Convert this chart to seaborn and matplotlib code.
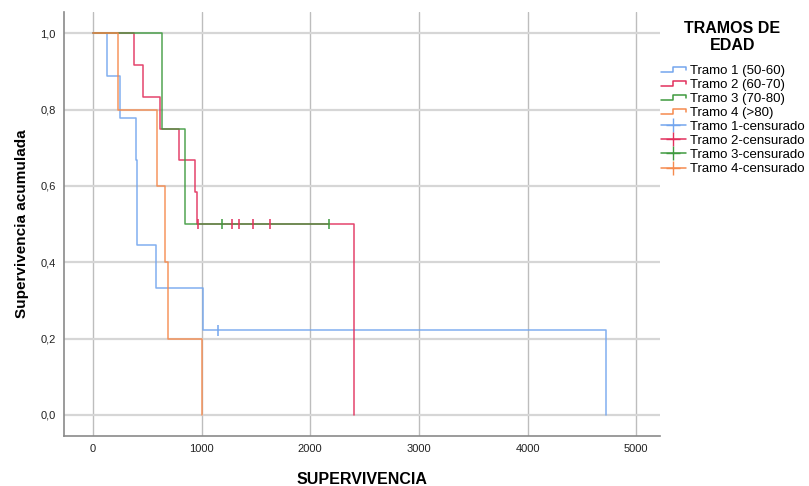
import seaborn as sns
import matplotlib.pyplot as plt
import matplotlib.ticker as ticker
from matplotlib.lines import Line2D
from matplotlib.legend_handler import HandlerBase
import pandas as pd

# Kaplan-Meier step curves (time, cumulative survival)
t1_time = [0, 126, 251, 399, 405, 410, 583, 1010, 4724]
t1_surv = [1.0, 0.889, 0.778, 0.667, 0.556, 0.444, 0.333, 0.222, 0.0]
t2_time = [0, 381, 464, 617, 789, 942, 955, 2403]
t2_surv = [1.0, 0.917, 0.833, 0.75, 0.667, 0.583, 0.5, 0.0]
t3_time = [0, 635, 847, 2173]
t3_surv = [1.0, 0.75, 0.5, 0.5]
t4_time = [0, 230, 586, 660, 688, 1004]
t4_surv = [1.0, 0.8, 0.6, 0.4, 0.2, 0.0]

# censored observations
c1_time = [1148]
c1_surv = [0.222]
c2_time = [964, 1283, 1344, 1476, 1630]
c2_surv = [0.5, 0.5, 0.5, 0.5, 0.5]
c3_time = [1188, 2173]
c3_surv = [0.5, 0.5]
c4_time = []
c4_surv = []

groups = ["Tramo 1 (50-60)", "Tramo 2 (60-70)", "Tramo 3 (70-80)", "Tramo 4 (>80)"]
cens_labels = ["Tramo 1-censurado", "Tramo 2-censurado", "Tramo 3-censurado", "Tramo 4-censurado"]
colors = ["#74A6EE", "#E2305C", "#3F9A3F", "#F58A4E"]

curves = pd.concat([
    pd.DataFrame({"time": t, "surv": s, "grupo": g})
    for t, s, g in zip([t1_time, t2_time, t3_time, t4_time],
                       [t1_surv, t2_surv, t3_surv, t4_surv], groups)
], ignore_index=True)
cens = pd.concat([
    pd.DataFrame({"time": t, "surv": s, "grupo": g})
    for t, s, g in zip([c1_time, c2_time, c3_time, c4_time],
                       [c1_surv, c2_surv, c3_surv, c4_surv], groups)
], ignore_index=True)

sns.set_theme(style="white")
plt.rcParams['font.family'] = ['Liberation Sans', 'DejaVu Sans']
plt.rcParams['text.color'] = 'black'
plt.rcParams['axes.labelcolor'] = 'black'
plt.rcParams['xtick.color'] = '#222222'
plt.rcParams['ytick.color'] = '#222222'

fig = plt.figure(figsize=(8.09, 4.86), dpi=100)
ax = fig.add_axes([0.079, 0.103, 0.737, 0.872])

palette = dict(zip(groups, colors))
sns.lineplot(data=curves, x="time", y="surv", hue="grupo", palette=palette,
             estimator=None, sort=False, drawstyle="steps-post", linewidth=1.1,
             alpha=0.9, legend=False, ax=ax)
sns.scatterplot(data=cens, x="time", y="surv", hue="grupo", palette=palette,
                marker="|", s=60, linewidth=1.1, legend=False, ax=ax, zorder=3)

ax.set_xlim(-267, 5220)
ax.set_ylim(-0.055, 1.055)
ax.set_xticks([0, 1000, 2000, 3000, 4000, 5000])
ax.set_yticks([0.0, 0.2, 0.4, 0.6, 0.8, 1.0])
ax.yaxis.set_major_formatter(ticker.FuncFormatter(lambda v, p: f"{v:.1f}".replace(".", ",")))
ax.tick_params(axis="both", labelsize=8, length=0, pad=6)
ax.xaxis.grid(True, color="#bdbdbd", linewidth=1)
ax.yaxis.grid(True, color="#d6d6d6", linewidth=1.6)
ax.set_axisbelow(True)
for side in ["top", "right"]:
    ax.spines[side].set_visible(False)
for side in ["left", "bottom"]:
    ax.spines[side].set_color("#8a8a8a")
    ax.spines[side].set_linewidth(1.2)

ax.set_xlabel("SUPERVIVENCIA", fontsize=11.5, fontweight="bold", labelpad=13)
ax.set_ylabel("Supervivencia acumulada", fontsize=11, fontweight="bold", labelpad=8)


class StepHandler(HandlerBase):
    def create_artists(self, legend, orig_handle, xdescent, ydescent, width, height, fontsize, trans):
        x0, y0 = -xdescent, -ydescent
        xs = [x0, x0 + width * 0.5, x0 + width * 0.5, x0 + width, x0 + width]
        ys = [y0 + height * 0.2, y0 + height * 0.2, y0 + height * 0.75, y0 + height * 0.75, y0 + height * 0.4]
        line = Line2D(xs, ys, color=orig_handle.get_color(), linewidth=1.1, transform=trans)
        return [line]


step_handles = [Line2D([], [], color=c) for c in colors]
cens_handles = [Line2D([], [], color=c, marker="+", markersize=10, linewidth=1.1) for c in colors]
handler_map = {h: StepHandler() for h in step_handles}
leg = ax.legend(step_handles + cens_handles, groups + cens_labels, handler_map=handler_map,
                title="TRAMOS DE\nEDAD", loc="upper left", bbox_to_anchor=(0.81, 0.968),
                bbox_transform=fig.transFigure, frameon=False, fontsize=9.5,
                handlelength=1.9, handletextpad=0.3, labelspacing=0.14, borderaxespad=0)
leg.get_title().set_fontweight("bold")
leg.get_title().set_fontsize(11.5)
leg.get_title().set_multialignment("center")
leg._legend_box.align = "center"
leg._legend_box.sep = 8

plt.savefig("out.png", dpi=100)
